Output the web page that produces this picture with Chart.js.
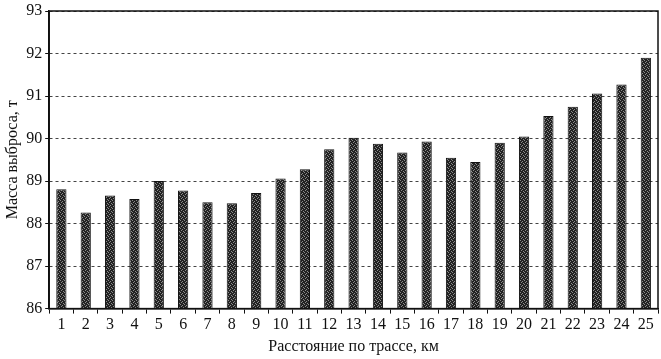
<!DOCTYPE html>
<html>
<head>
<meta charset="utf-8">
<script src="https://cdn.jsdelivr.net/npm/chart.js@4.4.1/dist/chart.umd.min.js"></script>
<style>
  body { margin: 0; background: #fff; }
</style>
</head>
<body>
<canvas id="massChart" width="661" height="359"></canvas>
<script>
const distances = ['1','2','3','4','5','6','7','8','9','10','11','12','13','14','15','16','17','18','19','20','21','22','23','24','25']
const masses = [88.81, 88.26, 88.66, 88.58, 89.0, 88.78, 88.5, 88.48, 88.72, 89.06, 89.28, 89.75, 90.02, 89.88, 89.67,
    89.93, 89.55, 89.45, 89.9, 90.05, 90.53, 90.75, 91.06, 91.27, 91.9]
const yMin = 86
const yMax = 93

// speckled grey fill like the scanned bars
const pat = document.createElement('canvas')
pat.width = 4
pat.height = 4
const pctx = pat.getContext('2d')
pctx.fillStyle = '#222'
pctx.fillRect(0, 0, 4, 4)
pctx.fillStyle = '#8a8a8a'
pctx.fillRect(0, 0, 1, 1)
pctx.fillRect(2, 1, 1, 1)
pctx.fillRect(1, 2, 1, 1)
pctx.fillRect(3, 3, 1, 1)

const frame = {
    id: 'frame',
    afterDraw(chart) {
        const {ctx, chartArea: a} = chart
        ctx.save()
        ctx.strokeStyle = '#111'
        ctx.lineWidth = 1.5
        ctx.strokeRect(a.left, a.top, a.right - a.left, a.bottom - a.top)
        ctx.restore()
    }
}

const font = { family: '"Liberation Serif", "DejaVu Serif", serif', size: 16 }
const yTickFont = { family: '"Liberation Serif", "DejaVu Serif", serif', size: 16, lineHeight: 1 }

new Chart(document.getElementById('massChart'), {
    type: 'bar',
    data: {
        labels: distances,
        datasets: [{
            data: masses,
            backgroundColor: pctx.createPattern(pat, 'repeat'),
            borderColor: '#111',
            borderWidth: 1,
            barPercentage: 0.42,
            categoryPercentage: 1
        }]
    },
    options: {
        responsive: false,
        animation: false,
        layout: { padding: { top: 1, right: 3, left: 3, bottom: 3 } },
        plugins: { legend: { display: false }, tooltip: { enabled: false } },
        scales: {
            x: {
                grid: { drawOnChartArea: false, offset: true, tickLength: 5, color: '#111' },
                border: { color: '#111', width: 1.5 },
                ticks: { color: '#111', font: font, padding: 2 },
                title: { display: true, text: 'Расстояние по трассе, км', color: '#111', font: font, padding: { top: 0, bottom: 0 } }
            },
            y: {
                min: yMin,
                max: yMax,
                grid: { color: '#444', tickLength: 4, tickColor: '#111' },
                border: { color: '#111', width: 1.5, dash: [3, 3] },
                ticks: { stepSize: 1, color: '#111', font: yTickFont, padding: 3 },
                title: { display: true, text: 'Масса выброса, т', color: '#111', font: font, padding: { top: 0, bottom: 1 } }
            }
        }
    },
    plugins: [frame]
})
</script>
</body>
</html>
